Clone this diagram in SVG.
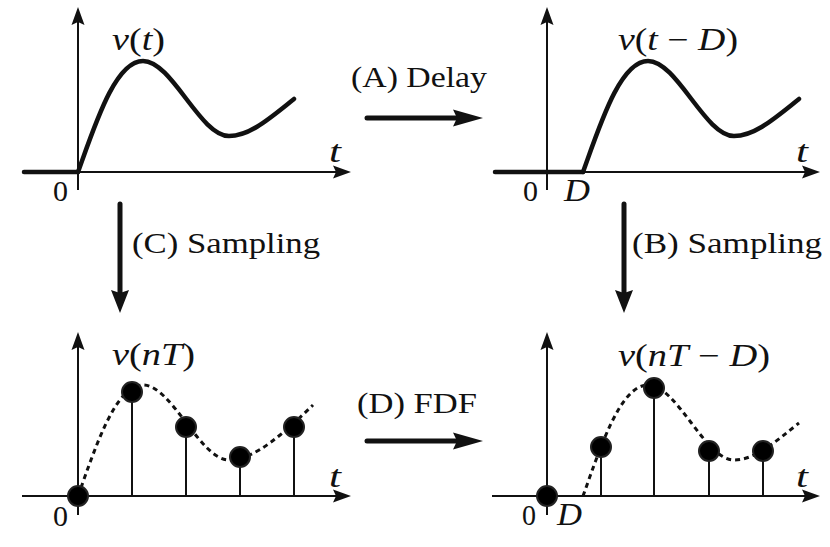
<svg xmlns="http://www.w3.org/2000/svg" width="830" height="547" viewBox="0 0 830 547">
<style>
.bg{fill:#fff}
.axis{stroke:#111;stroke-width:2;fill:none}
.thick{stroke:#111;stroke-width:4.5;fill:none;stroke-linecap:round}
.curve{stroke:#111;stroke-width:4.5;fill:none;stroke-linecap:round;stroke-linejoin:round}
.dash{stroke:#111;stroke-width:3;fill:none;stroke-dasharray:5 4}
.stem{stroke:#111;stroke-width:2}
.dot{fill:#000;stroke:#222;stroke-width:2}
.big{stroke:#111;stroke-width:5;fill:none;stroke-linecap:round}
.lbl{font-family:"Liberation Serif","Times New Roman",serif;font-size:30px;fill:#111}
.math{font-family:"Liberation Serif","Times New Roman",serif;font-size:31px;fill:#111}
.it{font-style:italic}
</style>
<defs>
<marker id="ax" markerUnits="userSpaceOnUse" orient="auto" markerWidth="30" markerHeight="20" refX="0" refY="0" overflow="visible">
<path d="M-4,-6.5 L14,0 L-4,6.5 L-1,0 Z" fill="#111"/>
</marker>
<marker id="bh" markerUnits="userSpaceOnUse" orient="auto" markerWidth="40" markerHeight="24" refX="0" refY="0" overflow="visible">
<path d="M-8,-8.5 L22,0 L-8,8.5 L-4,0 Z" fill="#111"/>
</marker>
<marker id="bv" markerUnits="userSpaceOnUse" orient="auto" markerWidth="40" markerHeight="24" refX="0" refY="0" overflow="visible">
<path d="M-5,-9 L18,0 L-5,9 L-2,0 Z" fill="#111"/>
</marker>
</defs>
<rect class="bg" x="0" y="0" width="830" height="547"/>

<g id="plot-v-t">
<line class="axis" x1="78" y1="190" x2="78" y2="21" marker-end="url(#ax)"/>
<line class="axis" x1="22" y1="172" x2="337" y2="172" marker-end="url(#ax)"/>
<line class="thick" x1="24" y1="172" x2="78" y2="172"/>
<path class="curve" d="M78,172 C95,125 115,61 143,61 C172,61 200,136 229,136 C250,136 270,118 294,99"/>
<text class="math" x="112" y="50" textLength="53" lengthAdjust="spacingAndGlyphs"><tspan class="it">v</tspan>(<tspan class="it">t</tspan>)</text>
<text class="math it" x="329" y="162" textLength="12" lengthAdjust="spacingAndGlyphs">t</text>
<text class="lbl" x="53" y="201" textLength="15" lengthAdjust="spacingAndGlyphs">0</text>
</g>

<g id="plot-v-t-D">
<line class="axis" x1="547" y1="190" x2="547" y2="21" marker-end="url(#ax)"/>
<line class="axis" x1="493" y1="172" x2="806" y2="172" marker-end="url(#ax)"/>
<line class="thick" x1="495" y1="172" x2="583" y2="172"/>
<path class="curve" d="M583,172 C600,125 620,61 648,61 C677,61 705,136 734,136 C755,136 775,118 799,99"/>
<text class="math" x="618" y="50" textLength="120" lengthAdjust="spacingAndGlyphs"><tspan class="it">v</tspan>(<tspan class="it">t</tspan> − <tspan class="it">D</tspan>)</text>
<text class="math it" x="796" y="162" textLength="12" lengthAdjust="spacingAndGlyphs">t</text>
<text class="lbl" x="523" y="201" textLength="15" lengthAdjust="spacingAndGlyphs">0</text>
<text class="math it" x="564" y="201" textLength="26" lengthAdjust="spacingAndGlyphs">D</text>
</g>

<g id="plot-v-nT">
<line class="axis" x1="78" y1="515" x2="78" y2="346" marker-end="url(#ax)"/>
<line class="axis" x1="22" y1="496" x2="337" y2="496" marker-end="url(#ax)"/>
<path class="dash" d="M78,496 C95,449 115,385 143,385 C172,385 200,460 229,460 C255,460 285,432 313,405"/>
<line class="stem" x1="132" y1="392" x2="132" y2="496"/>
<line class="stem" x1="186" y1="427" x2="186" y2="496"/>
<line class="stem" x1="240" y1="457" x2="240" y2="496"/>
<line class="stem" x1="294" y1="427" x2="294" y2="496"/>
<circle class="dot" cx="78" cy="496" r="10"/>
<circle class="dot" cx="132" cy="392" r="10"/>
<circle class="dot" cx="186" cy="427" r="10"/>
<circle class="dot" cx="240" cy="457" r="10"/>
<circle class="dot" cx="294" cy="427" r="10"/>
<text class="math" x="112" y="365" textLength="83" lengthAdjust="spacingAndGlyphs"><tspan class="it">v</tspan>(<tspan class="it">nT</tspan>)</text>
<text class="math it" x="329" y="487" textLength="12" lengthAdjust="spacingAndGlyphs">t</text>
<text class="lbl" x="53" y="526" textLength="15" lengthAdjust="spacingAndGlyphs">0</text>
</g>

<g id="plot-v-nT-D">
<line class="axis" x1="547" y1="515" x2="547" y2="346" marker-end="url(#ax)"/>
<line class="axis" x1="492" y1="496" x2="806" y2="496" marker-end="url(#ax)"/>
<path class="dash" d="M583,496 C600,449 620,385 648,385 C677,385 705,460 734,460 C755,460 775,442 799,423"/>
<line class="stem" x1="601" y1="447" x2="601" y2="496"/>
<line class="stem" x1="654" y1="388" x2="654" y2="496"/>
<line class="stem" x1="709" y1="451" x2="709" y2="496"/>
<line class="stem" x1="763" y1="451" x2="763" y2="496"/>
<circle class="dot" cx="547" cy="496" r="10"/>
<circle class="dot" cx="601" cy="447" r="10"/>
<circle class="dot" cx="654" cy="388" r="10"/>
<circle class="dot" cx="709" cy="451" r="10"/>
<circle class="dot" cx="763" cy="451" r="10"/>
<text class="math" x="618" y="366" textLength="152" lengthAdjust="spacingAndGlyphs"><tspan class="it">v</tspan>(<tspan class="it">nT</tspan> − <tspan class="it">D</tspan>)</text>
<text class="math it" x="796" y="487" textLength="12" lengthAdjust="spacingAndGlyphs">t</text>
<text class="lbl" x="522" y="525" textLength="14" lengthAdjust="spacingAndGlyphs">0</text>
<text class="math it" x="557" y="525" textLength="25" lengthAdjust="spacingAndGlyphs">D</text>
</g>

<g id="connectors">
<g id="edge-A">
<line class="big" x1="367" y1="118" x2="461" y2="118" marker-end="url(#bh)"/>
<text class="lbl" x="351" y="87" textLength="136" lengthAdjust="spacingAndGlyphs">(A) Delay</text>
</g>
<g id="edge-B">
<line class="big" x1="624" y1="204" x2="624" y2="295" marker-end="url(#bv)"/>
<text class="lbl" x="632" y="253" textLength="190" lengthAdjust="spacingAndGlyphs">(B) Sampling</text>
</g>
<g id="edge-C">
<line class="big" x1="120" y1="204" x2="120" y2="295" marker-end="url(#bv)"/>
<text class="lbl" x="132" y="253" textLength="188" lengthAdjust="spacingAndGlyphs">(C) Sampling</text>
</g>
<g id="edge-D">
<line class="big" x1="367" y1="441" x2="461" y2="441" marker-end="url(#bh)"/>
<text class="lbl" x="357" y="413" textLength="120" lengthAdjust="spacingAndGlyphs">(D) FDF</text>
</g>
</g>
</svg>
